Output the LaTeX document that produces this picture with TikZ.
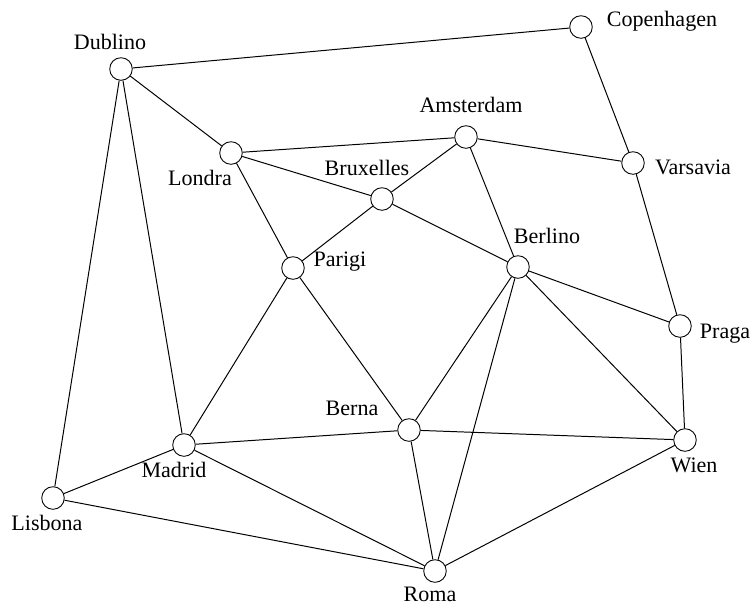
\documentclass[tikz,border=0pt]{standalone}
\usepackage{fontspec}
\setmainfont{Liberation Serif}
\usepackage{tikz}

\begin{document}
\begin{tikzpicture}[x=0.15936mm,y=-0.15936mm]
    \tikzstyle{city}=[circle,draw,inner sep=0pt,minimum size=0.36cm]
    \tikzstyle{cityname}=[inner sep=0pt,font=\normalsize]
    \tikzstyle{road}=[draw,line width=0.45pt]
    \useasboundingbox (0,0) rectangle (753,603);
    % cities
    \node[city] (dublino) at (121,69) {};
    \node[city] (copenhagen) at (581,27) {};
    \node[city] (londra) at (231,153) {};
    \node[city] (amsterdam) at (466,137) {};
    \node[city] (varsavia) at (633,163) {};
    \node[city] (bruxelles) at (382,199) {};
    \node[city] (parigi) at (293,268) {};
    \node[city] (berlino) at (518,267) {};
    \node[city] (praga) at (680,326) {};
    \node[city] (berna) at (409,430) {};
    \node[city] (madrid) at (184,445) {};
    \node[city] (wien) at (685,440) {};
    \node[city] (lisbona) at (53,498) {};
    \node[city] (roma) at (435,571) {};
    % names
    \node[cityname] (dublinoname) at (110,42) {Dublino};
    \node[cityname] (copenhagenname) at (662,21) {Copenhagen};
    \node[cityname] (londraname) at (200,178) {Londra};
    \node[cityname] (amsterdamname) at (471,105) {Amsterdam};
    \node[cityname] (varsavianame) at (693,167) {Varsavia};
    \node[cityname] (bruxellesname) at (367,168) {Bruxelles};
    \node[cityname] (pariginame) at (340,262) {Parigi};
    \node[cityname] (berlinoname) at (547,236) {Berlino};
    \node[cityname] (praganame) at (725,334) {Praga};
    \node[cityname] (bernaname) at (352,408) {Berna};
    \node[cityname] (madridname) at (174,470) {Madrid};
    \node[cityname] (wienname) at (694,465) {Wien};
    \node[cityname] (lisbonaname) at (47,523) {Lisbona};
    \node[cityname] (romaname) at (430,594) {Roma};
    % roads
    \path[road] (dublino) -- (copenhagen)
                (copenhagen) -- (varsavia)
                (dublino) -- (londra)
                (dublino) -- (lisbona)
                (dublino) -- (madrid)
                (londra) -- (amsterdam)
                (londra) -- (bruxelles)
                (londra) -- (parigi)
                (amsterdam) -- (varsavia)
                (amsterdam) -- (bruxelles)
                (amsterdam) -- (berlino)
                (bruxelles) -- (parigi)
                (bruxelles) -- (berlino)
                (varsavia) -- (praga)
                (berlino) -- (praga)
                (berlino) -- (wien)
                (berlino) -- (berna)
                (berlino) -- (roma)
                (parigi) -- (madrid)
                (parigi) -- (berna)
                (madrid) -- (berna)
                (madrid) -- (lisbona)
                (madrid) -- (roma)
                (berna) -- (wien)
                (berna) -- (roma)
                (praga) -- (wien)
                (wien) -- (roma)
                (lisbona) -- (roma);
\end{tikzpicture}
\end{document}
